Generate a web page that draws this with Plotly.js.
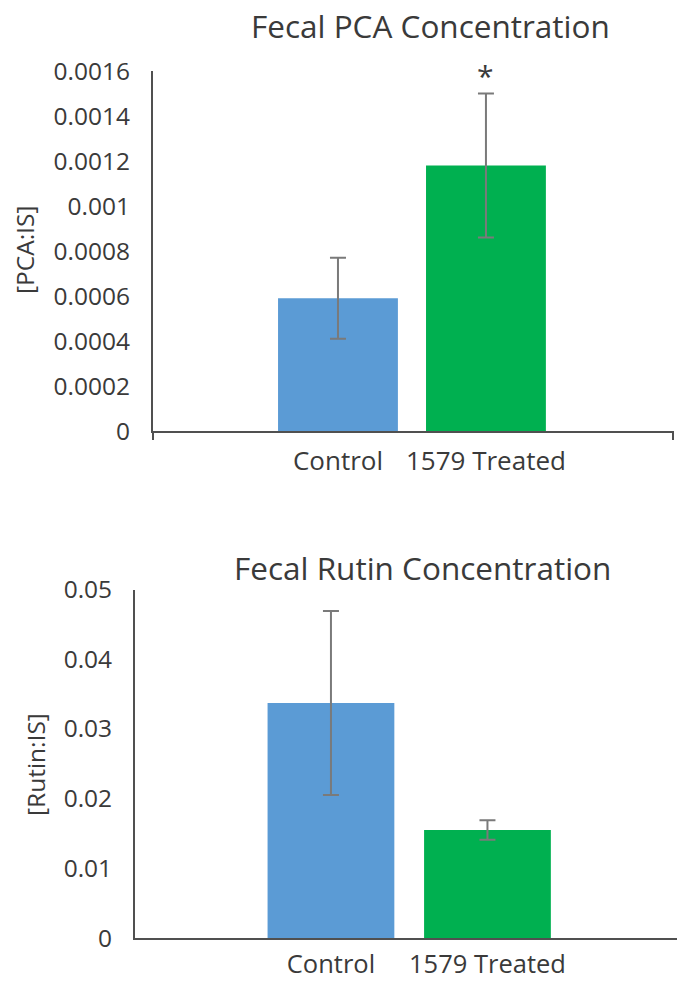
<!DOCTYPE html>
<html>
<head>
<meta charset="utf-8">
<script src="https://cdn.plot.ly/plotly-3.0.1.min.js"></script>
<style>
html, body { margin: 0; padding: 0; background: #fff; }
#chart { width: 677px; height: 983px; }
</style>
</head>
<body>
<div id="chart"></div>
<script>
// ---- data ----
const categories = ["Control", "1579 Treated"];
const barColors = ["#5B9BD5", "#00B050"];

const pcaMeans = [0.00059, 0.00118];
const pcaErrors = [0.00018, 0.00032];
const pcaTickVals = [0, 0.0002, 0.0004, 0.0006, 0.0008, 0.001, 0.0012, 0.0014, 0.0016];
const pcaTickText = ["0", "0.0002", "0.0004", "0.0006", "0.0008", "0.001", "0.0012", "0.0014", "0.0016"];

const rutinMeans = [0.0337, 0.0155];
const rutinErrors = [0.0132, 0.0014];
const rutinTickVals = [0, 0.01, 0.02, 0.03, 0.04, 0.05];
const rutinTickText = ["0", "0.01", "0.02", "0.03", "0.04", "0.05"];

const titles = ["Fecal PCA Concentration", "Fecal Rutin Concentration"];
const yTitles = ["[PCA:IS]", "[Rutin:IS]"];
const significance = "*";

// ---- styling ----
const W = 677, H = 983;
const FONT = "'Open Sans', 'Liberation Sans', sans-serif";
const TXT = "#3a3a3a";
const AX = "#505050";
const px = v => v / W;
const py = v => 1 - v / H;

function barTrace(means, errs, xa, ya) {
  return {
    type: "bar",
    x: categories,
    y: means,
    xaxis: xa, yaxis: ya,
    marker: { color: barColors, line: { width: 0 } },
    error_y: { type: "data", array: errs, visible: true, color: "#7a7a7a", thickness: 2, width: 8 },
    showlegend: false,
    hoverinfo: "skip"
  };
}

const data = [
  barTrace(pcaMeans, pcaErrors, "x", "y"),
  barTrace(rutinMeans, rutinErrors, "x2", "y2")
];

const xCommon = {
  type: "category",
  showline: true, linewidth: 2, linecolor: AX,
  showgrid: false, zeroline: false,
  ticks: "",
  ticklabelstandoff: 6,
  tickfont: { family: FONT, size: 26, color: TXT },
  fixedrange: true
};
const yCommon = {
  showline: true, linewidth: 2, linecolor: AX,
  showgrid: false, zeroline: false,
  ticks: "",
  ticklabelstandoff: 16,
  tickmode: "array",
  tickfont: { family: FONT, size: 24.5, color: TXT },
  fixedrange: true
};

const layout = {
  width: W, height: H,
  margin: { l: 0, r: 0, t: 0, b: 0 },
  paper_bgcolor: "#fff", plot_bgcolor: "#fff",
  bargap: 0.19,
  showlegend: false,
  xaxis: Object.assign({}, xCommon, {
    domain: [px(153), px(673)], anchor: "y",
    range: [-1.25, 2.264]
  }),
  yaxis: Object.assign({}, yCommon, {
    domain: [py(431), py(71)], anchor: "x",
    range: [0, 0.0016],
    tickvals: pcaTickVals, ticktext: pcaTickText
  }),
  xaxis2: Object.assign({}, xCommon, {
    domain: [px(135), 1], anchor: "y2",
    range: [-1.252, 2.211],
    ticklabelstandoff: 2,
    tickfont: { family: FONT, size: 25.5, color: TXT }
  }),
  yaxis2: Object.assign({}, yCommon, {
    domain: [py(938), py(589.5)], anchor: "x2",
    range: [0, 0.05],
    tickvals: rutinTickVals, ticktext: rutinTickText
  }),
  shapes: [
    { type: "line", xref: "x domain", yref: "y domain", x0: 0, x1: 0, y0: 0, y1: -9 / 360, line: { color: AX, width: 2 } },
    { type: "line", xref: "x domain", yref: "y domain", x0: 1, x1: 1, y0: 0, y1: -9 / 360, line: { color: AX, width: 2 } }
  ],
  annotations: [
    { text: titles[0], xref: "paper", yref: "paper", x: px(430), y: py(25), xanchor: "center", yanchor: "middle", showarrow: false, font: { family: FONT, size: 31.5, color: TXT } },
    { text: titles[1], xref: "paper", yref: "paper", x: px(422.5), y: py(567), xanchor: "center", yanchor: "middle", showarrow: false, font: { family: FONT, size: 31.5, color: TXT } },
    { text: yTitles[0], xref: "paper", yref: "paper", x: px(24), y: py(250), xanchor: "center", yanchor: "middle", textangle: -90, showarrow: false, font: { family: FONT, size: 24.5, color: TXT } },
    { text: yTitles[1], xref: "paper", yref: "paper", x: px(35), y: py(765), xanchor: "center", yanchor: "middle", textangle: -90, showarrow: false, font: { family: FONT, size: 24.5, color: TXT } },
    { text: significance, xref: "x", yref: "paper", x: categories[1], y: py(76), xanchor: "center", yanchor: "middle", showarrow: false, font: { family: FONT, size: 30, color: TXT } }
  ]
};

Plotly.newPlot("chart", data, layout, { staticPlot: true, displayModeBar: false });
</script>
</body>
</html>
